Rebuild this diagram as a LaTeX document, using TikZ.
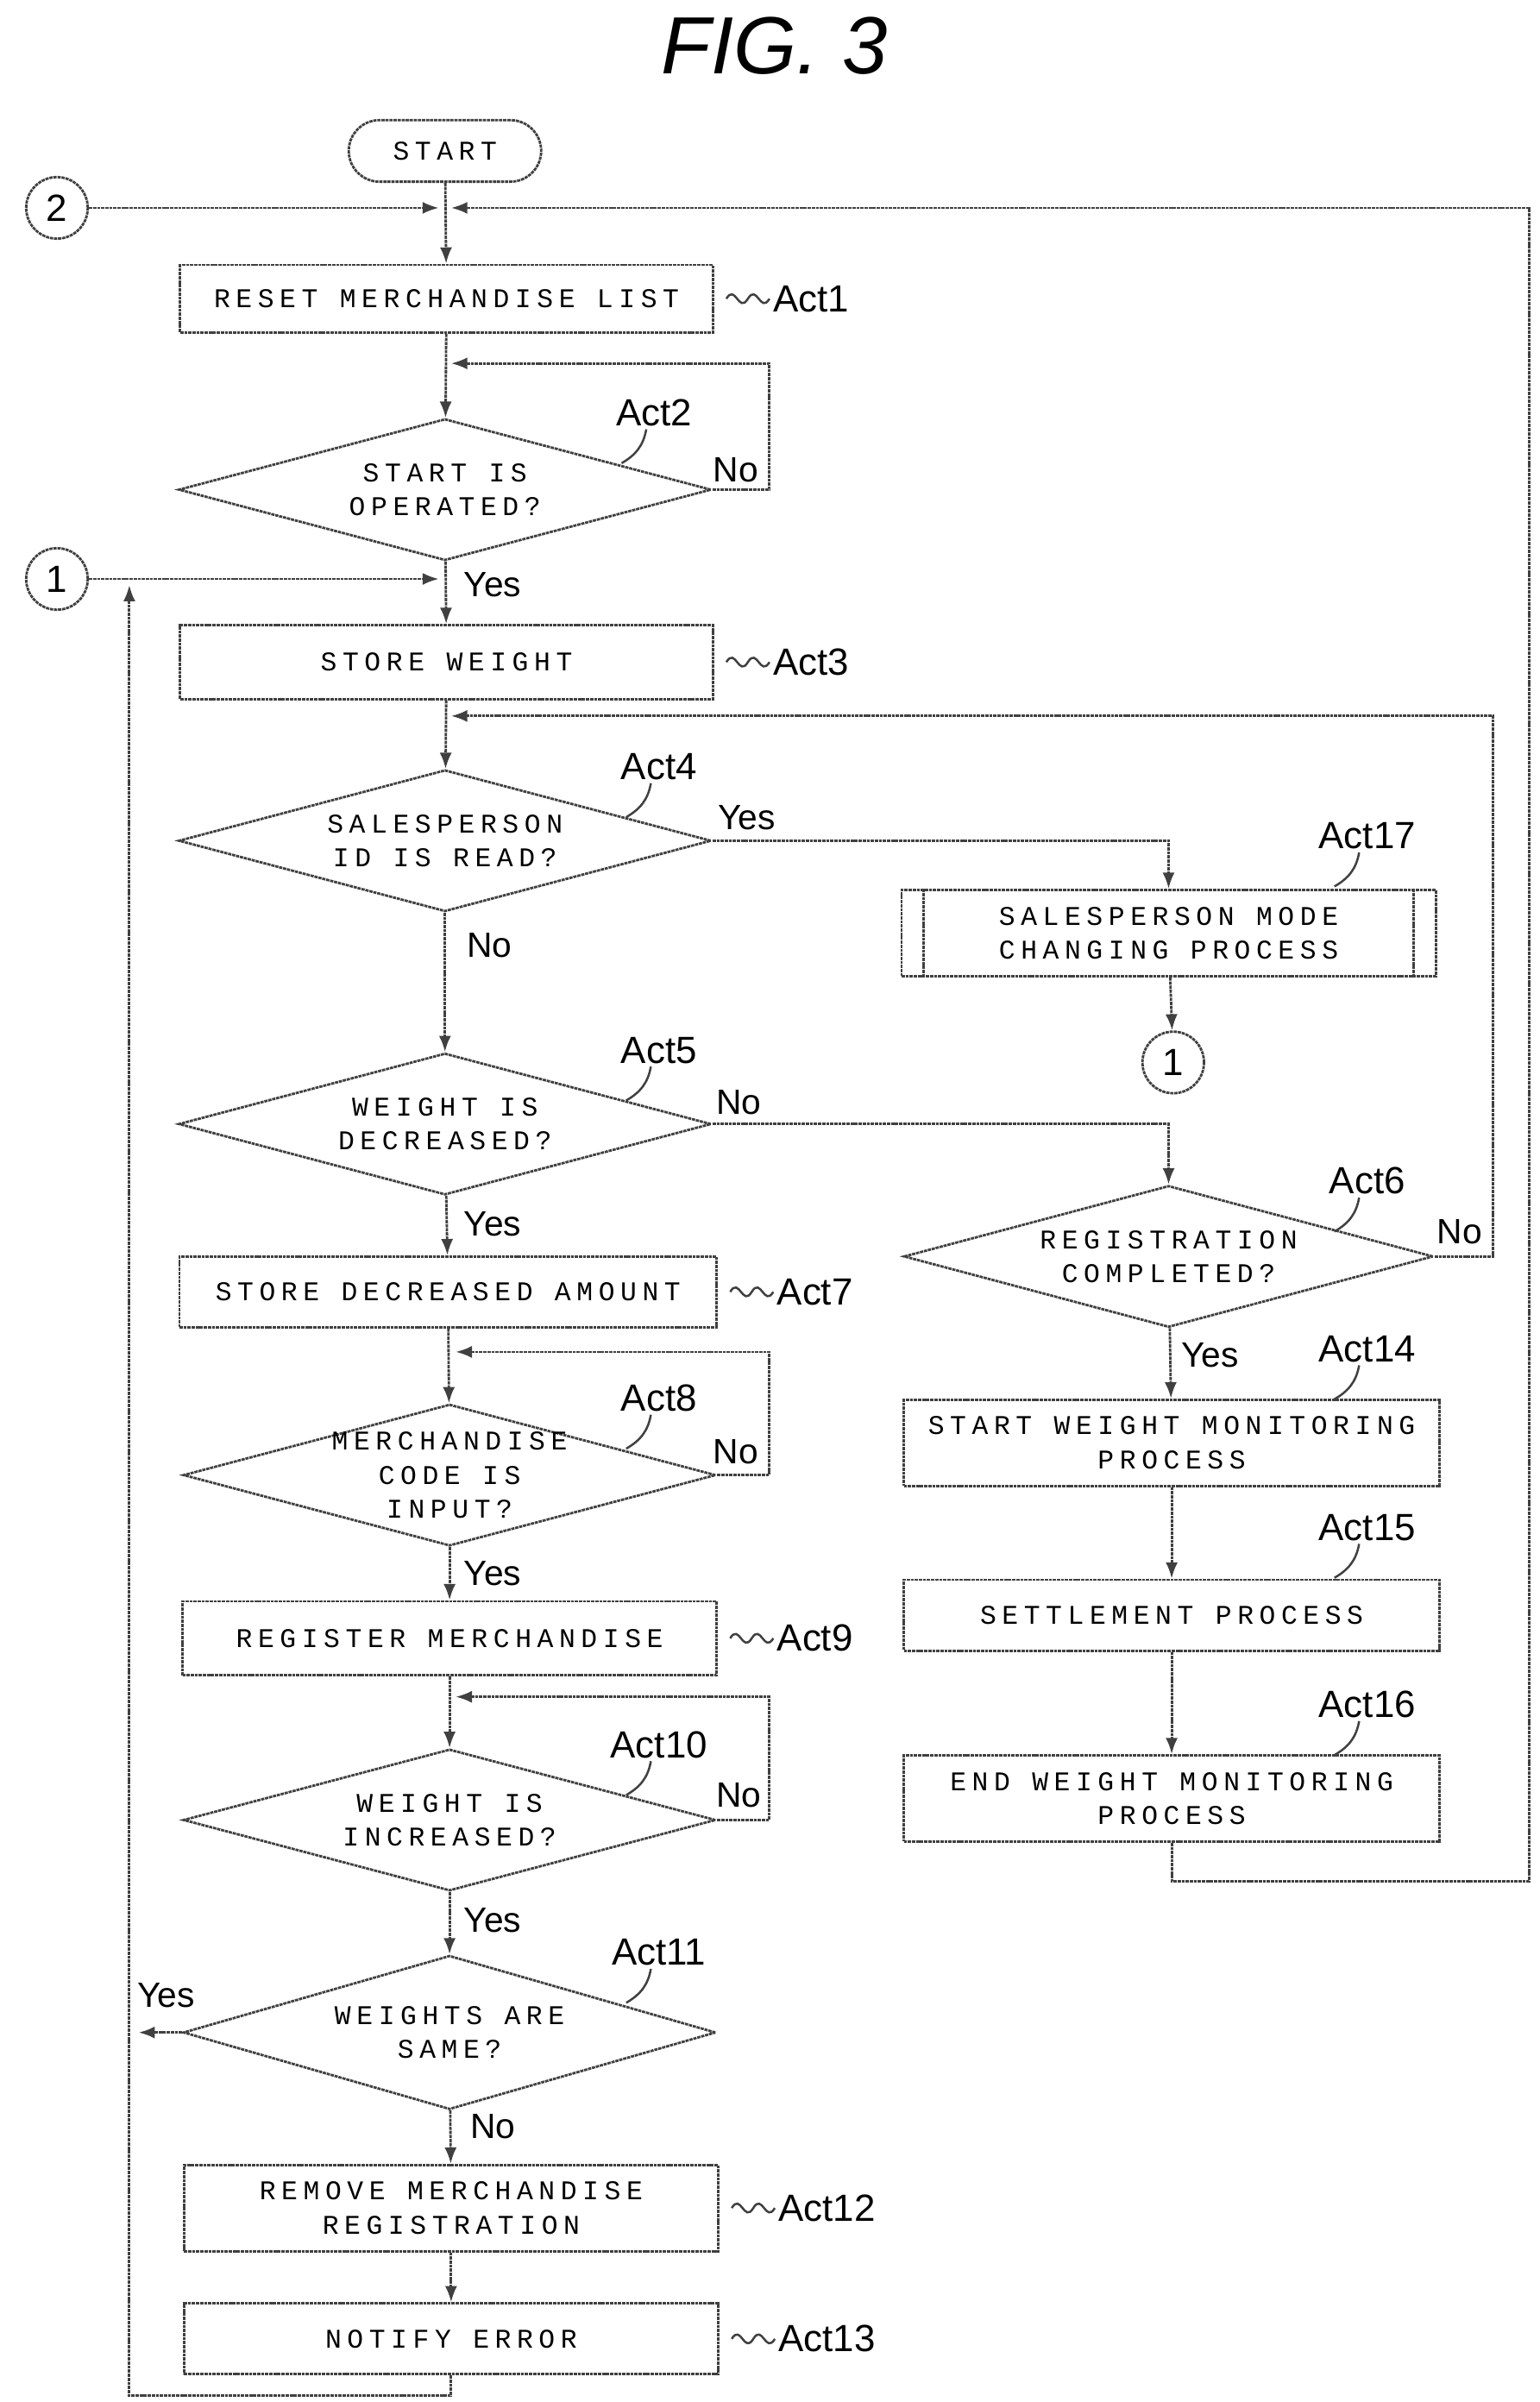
\documentclass[tikz,border=0pt]{standalone}
\usepackage{fontspec}
\setmainfont{Liberation Sans}
\newfontfamily\boxfont{Liberation Mono}[LetterSpace=21]
\usetikzlibrary{shapes.geometric,arrows.meta}

\tikzset{
  conn/.style={draw=black!75, line width=0.9pt, dash pattern=on 1.2pt off 0.3pt},
  arr/.style={conn, -{Latex[length=6pt,width=4.5pt]}},
  flowbox/.style={rectangle, conn, minimum width=6.92cm, minimum height=0.92cm,
    align=center, font=\boxfont\fontsize{10}{12.5}\selectfont},
  flowdia/.style={diamond, conn, aspect=3.76, inner sep=0pt,
    minimum width=6.92cm, minimum height=1.84cm},
  diatext/.style={align=center, font=\boxfont\fontsize{10}{12.5}\selectfont},
  term/.style={rectangle, rounded corners=0.4cm, conn, minimum width=2.5cm,
    minimum height=0.8cm, font=\boxfont\fontsize{10}{12.5}\selectfont},
  joint/.style={circle, conn, minimum size=0.8cm, inner sep=0pt, font=\fontsize{14}{14}\selectfont},
  actl/.style={font=\fontsize{14}{14}\selectfont, inner sep=1pt},
  yn/.style={font=\fontsize{13}{13}\selectfont, inner sep=1pt},
  lead/.style={draw=black!75, line width=0.8pt}
}

% label beside a box
\newcommand{\actbox}[2]{%
  \draw[lead] ([xshift=0.16cm]#1.east) .. controls +(6,-10) and +(-6,10) .. ++(14,0)
    .. controls +(6,-10) and +(-6,10) .. ++(14,0) node[actl,anchor=west]{#2};}
% label above a shape
\newcommand{\actup}[3]{%
  \node[actl] (#1L) at (#2) {#3};
  \draw[lead] ([xshift=-3pt]#1L.south) to[out=-100,in=30] ++(-16,22);}

\begin{document}
\begin{tikzpicture}[x=0.02cm,y=-0.02cm]
  \useasboundingbox (0,0) rectangle (1000,1560);

  \node[font=\itshape\fontsize{30}{30}\selectfont] (title) at (503,30) {FIG. 3};

  \node[term] (start) at (289,98) {START};
  \node[joint] (c2) at (37,135) {2};
  \coordinate (j2) at (289,135);
  \node[flowbox, minimum height=0.88cm] (a1) at (290,194) {RESET MERCHANDISE LIST};
  \node[flowdia, label={[diatext]center:START IS\\OPERATED?}] (a2) at (289,318) {};
  \node[joint] (c1) at (37,376) {1};
  \coordinate (j1) at (289,376);
  \node[flowbox, minimum height=0.96cm] (a3) at (290,430) {STORE WEIGHT};
  \node[flowdia, label={[diatext]center:SALESPERSON\\ID IS READ?}] (a4) at (289,546) {};
  \node[flowbox, minimum width=6.94cm, minimum height=1.12cm] (a17) at (759,606)
    {SALESPERSON MODE\\CHANGING PROCESS};
  \node[joint] (c1b) at (762,690) {1};
  \node[flowdia, label={[diatext]center:WEIGHT IS\\DECREASED?}] (a5) at (289,730) {};
  \node[flowdia, minimum width=6.88cm, label={[diatext]center:REGISTRATION\\COMPLETED?}] (a6) at (759,816) {};
  \node[flowbox, minimum width=6.98cm] (a7) at (291,839) {STORE DECREASED AMOUNT};
  \node[flowdia, label={[diatext]center:MERCHANDISE\\CODE IS\\INPUT?}] (a8) at (292,958) {};
  \node[flowbox, minimum width=6.94cm, minimum height=0.96cm] (a9) at (292,1064) {REGISTER MERCHANDISE};
  \node[flowdia, label={[diatext]center:WEIGHT IS\\INCREASED?}] (a10) at (292,1182) {};
  \node[flowdia, minimum height=2cm, label={[diatext]center:WEIGHTS ARE\\SAME?}] (a11) at (292,1320) {};
  \node[flowbox, minimum width=6.94cm, minimum height=1.12cm] (a12) at (293,1434)
    {REMOVE MERCHANDISE\\REGISTRATION};
  \node[flowbox, minimum width=6.94cm] (a13) at (293,1519) {NOTIFY ERROR};
  \node[flowbox, minimum width=6.96cm, minimum height=1.12cm] (a14) at (761,937)
    {START WEIGHT MONITORING\\PROCESS};
  \node[flowbox, minimum width=6.96cm] (a15) at (761,1049) {SETTLEMENT PROCESS};
  \node[flowbox, minimum width=6.96cm, minimum height=1.12cm] (a16) at (761,1168)
    {END WEIGHT MONITORING\\PROCESS};
  \draw[conn] ([xshift=0.3cm]a17.north west) -- ([xshift=0.3cm]a17.south west);
  \draw[conn] ([xshift=-0.3cm]a17.north east) -- ([xshift=-0.3cm]a17.south east);

  % connectors
  \coordinate (r2) at (993,1222);
  \coordinate (l1) at (84,1556);
  \draw[arr] (start) -- (a1);
  \draw[arr] (c2) -- ([xshift=-0.08cm]j2);
  \draw[arr] (a16.south) |- (r2) |- ([xshift=0.08cm]j2);
  \draw[arr] (a1) -- (a2);
  \draw[arr] (a2.east) -- ++(37,0) |- ([xshift=0.08cm]a2.north |- 0,236);
  \draw[arr] (a2) -- (a3);
  \draw[arr] (c1) -- ([xshift=-0.08cm]j1);
  \draw[arr] (a3) -- (a4);
  \draw[arr] (a4.east) -| (a17.north);
  \draw[arr] (a17) -- (c1b);
  \draw[arr] (a4) -- (a5);
  \draw[arr] (a5.east) -| (a6.north);
  \draw[arr] (a6.east) -- ++(38,0) |- ([xshift=0.08cm]a4.north |- 0,465);
  \draw[arr] (a5) -- (a7);
  \draw[arr] (a7) -- (a8);
  \draw[arr] (a8.east) -- ++(34,0) |- ([xshift=0.08cm]a8.north |- 0,878);
  \draw[arr] (a8) -- (a9);
  \draw[arr] (a9) -- (a10);
  \draw[arr] (a10.east) -- ++(34,0) |- ([xshift=0.08cm]a10.north |- 0,1102);
  \draw[arr] (a10) -- (a11);
  \draw[arr] (a11.west) -- (90,1320);
  \draw[arr] (a11) -- (a12);
  \draw[arr] (a12) -- (a13);
  \draw[arr] (a13.south) |- (l1) -- (84,380);
  \draw[arr] (a6) -- (a14);
  \draw[arr] (a14) -- (a15);
  \draw[arr] (a15) -- (a16);

  % Yes / No
  \node[yn] at (478,305) {No};
  \node[yn] at (320,380) {Yes};
  \node[yn] at (485,531) {Yes};
  \node[yn] at (318,614) {No};
  \node[yn] at (480,716) {No};
  \node[yn] at (948,800) {No};
  \node[yn] at (320,795) {Yes};
  \node[yn] at (478,943) {No};
  \node[yn] at (320,1022) {Yes};
  \node[yn] at (480,1166) {No};
  \node[yn] at (320,1247) {Yes};
  \node[yn] at (108,1296) {Yes};
  \node[yn] at (320,1381) {No};
  \node[yn] at (786,880) {Yes};

  % Act labels
  \actbox{a1}{Act1}
  \actbox{a3}{Act3}
  \actbox{a7}{Act7}
  \actbox{a9}{Act9}
  \actbox{a12}{Act12}
  \actbox{a13}{Act13}
  \actup{a2}{425,268}{Act2}
  \actup{a4}{428,498}{Act4}
  \actup{a5}{428,682}{Act5}
  \actup{a8}{428,908}{Act8}
  \actup{a10}{428,1133}{Act10}
  \actup{a11}{428,1268}{Act11}
  \actup{a17}{888,543}{Act17}
  \actup{a6}{888,767}{Act6}
  \actup{a14}{888,876}{Act14}
  \actup{a15}{888,992}{Act15}
  \actup{a16}{888,1107}{Act16}
\end{tikzpicture}
\end{document}
